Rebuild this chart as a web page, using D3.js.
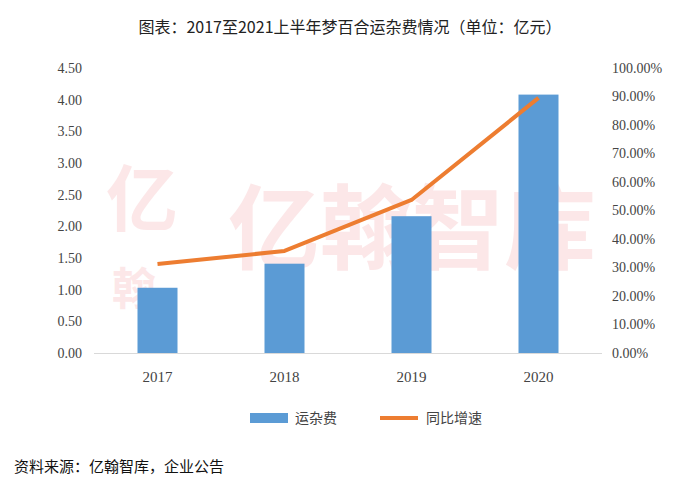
<!DOCTYPE html><html><head><meta charset="utf-8"><script src="https://cdn.jsdelivr.net/npm/d3@7"></script>
<style>body{margin:0;background:#fff}</style></head><body><svg id="c" width="700" height="500"></svg>
<script>
const categories=["2017","2018","2019","2020"];
const freight=[1.03,1.41,2.16,4.08];
const growth=[0.312,0.358,0.537,0.895];
const leftTicks=[0,0.5,1,1.5,2,2.5,3,3.5,4,4.5];
const rightTicks=[0,0.1,0.2,0.3,0.4,0.5,0.6,0.7,0.8,0.9,1.0];
const svg=d3.select("#c");
const serif="'Liberation Serif','DejaVu Serif',serif", cjk="'Noto Sans CJK SC',sans-serif";
const x=d3.scaleBand().domain(categories).range([94,602]);
const yL=d3.scaleLinear().domain([0,4.5]).range([353,68]);
const yR=d3.scaleLinear().domain([0,1]).range([353,68]);
const wm=svg.append("g").attr("fill","#e8424a").attr("opacity",0.12).attr("font-family",cjk).attr("font-weight","bold");
wm.append("text").attr("x",228).attr("y",262).attr("font-size",92).text("亿翰智库");
wm.append("text").attr("x",106).attr("y",225).attr("font-size",72).text("亿");
wm.append("text").attr("x",112).attr("y",305).attr("font-size",44).text("翰");
svg.append("text").attr("x",350).attr("y",33).attr("text-anchor","middle").attr("font-family",cjk).attr("font-size",16).attr("fill","#222").text("图表：2017至2021上半年梦百合运杂费情况（单位：亿元）");
svg.selectAll(".b").data(categories).enter().append("rect").attr("fill","#5b9bd5")
 .attr("x",d=>x(d)+x.bandwidth()/2-20).attr("width",40).attr("y",(d,i)=>yL(freight[i])).attr("height",(d,i)=>353-yL(freight[i]));
svg.append("line").attr("x1",94).attr("x2",602).attr("y1",353.5).attr("y2",353.5).attr("stroke","#d9d9d9");
svg.append("path").datum(growth).attr("fill","none").attr("stroke","#ed7d31").attr("stroke-width",4).attr("stroke-linejoin","round")
 .attr("d",d3.line().x((d,i)=>x(categories[i])+x.bandwidth()/2).y(d=>yR(d)));
const lt=d3.axisLeft(yL).tickValues(leftTicks).tickFormat(d3.format(".2f")).tickSize(0).tickPadding(12);
svg.append("g").attr("transform","translate(94,0)").call(lt).call(g=>g.select(".domain").remove()).selectAll("text").attr("font-family",serif).attr("font-size",14).attr("fill","#444");
const rt=d3.axisRight(yR).tickValues(rightTicks).tickFormat(d=>d3.format(".2f")(d*100)+"%").tickSize(0).tickPadding(10);
svg.append("g").attr("transform","translate(602,0)").call(rt).call(g=>g.select(".domain").remove()).selectAll("text").attr("font-family",serif).attr("font-size",14).attr("fill","#444");
const bt=d3.axisBottom(x).tickSize(0).tickPadding(18);
svg.append("g").attr("transform","translate(0,353)").call(bt).call(g=>g.select(".domain").remove()).selectAll("text").attr("font-family",serif).attr("font-size",15).attr("fill","#444");
svg.append("rect").attr("x",250).attr("y",413).attr("width",38).attr("height",10).attr("fill","#5b9bd5");
svg.append("text").attr("x",295).attr("y",423).attr("font-family",cjk).attr("font-size",14).attr("fill","#444").text("运杂费");
svg.append("line").attr("x1",380).attr("x2",418).attr("y1",418).attr("y2",418).attr("stroke","#ed7d31").attr("stroke-width",4);
svg.append("text").attr("x",426).attr("y",423).attr("font-family",cjk).attr("font-size",14).attr("fill","#444").text("同比增速");
svg.append("text").attr("x",14).attr("y",472).attr("font-family",cjk).attr("font-size",15).attr("fill","#111").text("资料来源：亿翰智库，企业公告");
</script></body></html>
